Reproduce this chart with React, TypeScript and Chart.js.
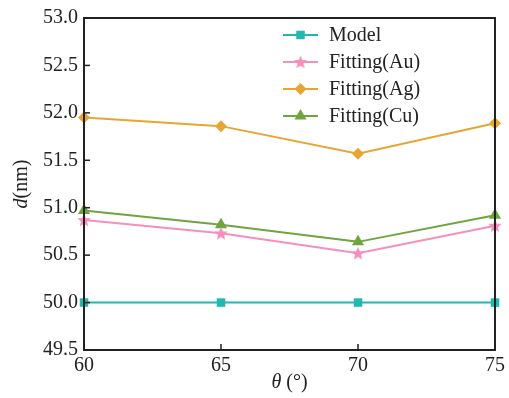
import React, { useEffect, useRef } from "react";
import { Chart, registerables } from "chart.js";
Chart.register(...registerables);

const angles = [60, 65, 70, 75];
const modelValues = [50.0, 50.0, 50.0, 50.0];
const auValues = [50.87, 50.73, 50.52, 50.81];
const agValues = [51.95, 51.86, 51.57, 51.89];
const cuValues = [50.97, 50.82, 50.64, 50.92];
const seriesNames = ["Model", "Fitting(Au)", "Fitting(Ag)", "Fitting(Cu)"];
const yTicks = [49.5, 50.0, 50.5, 51.0, 51.5, 52.0, 52.5, 53.0];
const xTicks = [60, 65, 70, 75];

const TEAL = "#20b8b0";
const PINK = "#f78fbd";
const ORANGE = "#e8a534";
const GREEN = "#6fa43f";
const FONT = "'Liberation Serif', 'Times New Roman', serif";

function makeStar(color: string, size: number) {
  const c = document.createElement("canvas");
  c.width = size;
  c.height = size;
  const ctx = c.getContext("2d")!;
  const cx = size / 2, cy = size / 2 + 0.5;
  const R = size / 2, r = R * 0.45;
  ctx.beginPath();
  for (let i = 0; i < 10; i++) {
    const rad = i % 2 === 0 ? R : r;
    const a = -Math.PI / 2 + (i * Math.PI) / 5;
    const x = cx + rad * Math.cos(a), y = cy + rad * Math.sin(a);
    if (i === 0) ctx.moveTo(x, y); else ctx.lineTo(x, y);
  }
  ctx.closePath();
  ctx.fillStyle = color;
  ctx.fill();
  return c;
}

function drawMarker(ctx: CanvasRenderingContext2D, style: any, r: number, x: number, y: number, color: string) {
  ctx.fillStyle = color;
  if (typeof style !== "string") {
    ctx.drawImage(style, x - style.width / 2, y - style.height / 2);
    return;
  }
  ctx.beginPath();
  if (style === "rect") {
    const s = r * Math.SQRT1_2;
    ctx.rect(x - s, y - s, 2 * s, 2 * s);
  } else if (style === "rectRot") {
    ctx.moveTo(x, y - r);
    ctx.lineTo(x + r, y);
    ctx.lineTo(x, y + r);
    ctx.lineTo(x - r, y);
    ctx.closePath();
  } else if (style === "triangle") {
    ctx.moveTo(x, y - r);
    ctx.lineTo(x + r * Math.cos(Math.PI / 6), y + r * 0.5);
    ctx.lineTo(x - r * Math.cos(Math.PI / 6), y + r * 0.5);
    ctx.closePath();
  }
  ctx.fill();
}

export default function App() {
  const ref = useRef<HTMLCanvasElement>(null);
  useEffect(() => {
    document.body.style.margin = "0";
    const star = makeStar(PINK, 14);
    const mk = (vals: number[]) => vals.map((v, i) => ({ x: angles[i], y: v }));
    const datasets: any[] = [
      { label: seriesNames[0], data: mk(modelValues), borderColor: TEAL, backgroundColor: TEAL, pointStyle: "rect", pointRadius: 6 },
      { label: seriesNames[1], data: mk(auValues), borderColor: PINK, backgroundColor: PINK, pointStyle: star, pointRadius: 7 },
      { label: seriesNames[2], data: mk(agValues), borderColor: ORANGE, backgroundColor: ORANGE, pointStyle: "rectRot", pointRadius: 6 },
      { label: seriesNames[3], data: mk(cuValues), borderColor: GREEN, backgroundColor: GREEN, pointStyle: "triangle", pointRadius: 7 },
    ].map((d) => ({ ...d, borderWidth: 2, pointBorderWidth: 0, clip: false }));

    const framePlugin = {
      id: "frame",
      afterDraw(chart: any) {
        const { ctx, chartArea: a, scales } = chart;
        ctx.save();
        ctx.strokeStyle = "#222";
        ctx.lineWidth = 2;
        ctx.strokeRect(a.left, a.top, a.right - a.left, a.bottom - a.top);
        ctx.lineWidth = 1.5;
        scales.y.ticks.forEach((t: any) => {
          const py = scales.y.getPixelForValue(t.value);
          ctx.beginPath();
          ctx.moveTo(a.left, py);
          ctx.lineTo(a.left + 6, py);
          ctx.stroke();
        });
        scales.x.ticks.forEach((t: any) => {
          const px = scales.x.getPixelForValue(t.value);
          ctx.beginPath();
          ctx.moveTo(px, a.bottom);
          ctx.lineTo(px, a.bottom - 6);
          ctx.stroke();
        });
        ctx.fillStyle = "#222";
        ctx.textBaseline = "middle";
        const drawMixed = (parts: [string, boolean][], cx: number, cy: number) => {
          let total = 0;
          const widths = parts.map(([s, it]) => {
            ctx.font = `${it ? "italic " : ""}20px ${FONT}`;
            const w = ctx.measureText(s).width;
            total += w;
            return w;
          });
          let x = cx - total / 2;
          parts.forEach(([s, it], i) => {
            ctx.font = `${it ? "italic " : ""}20px ${FONT}`;
            ctx.textAlign = "left";
            ctx.fillStyle = "#222";
            ctx.fillText(s, x, cy);
            x += widths[i];
          });
        };
        drawMixed([["\u03b8", true], [" (\u00b0)", false]], (a.left + a.right) / 2, 383);
        ctx.save();
        ctx.translate(22, (a.top + a.bottom) / 2);
        ctx.rotate(-Math.PI / 2);
        drawMixed([["d", true], ["(nm)", false]], 0, 0);
        ctx.restore();
        const rows = [35, 62, 89, 116];
        chart.data.datasets.forEach((ds: any, i: number) => {
          const y = rows[i];
          ctx.strokeStyle = ds.borderColor;
          ctx.lineWidth = 2;
          ctx.beginPath();
          ctx.moveTo(283, y);
          ctx.lineTo(318, y);
          ctx.stroke();
          drawMarker(ctx, ds.pointStyle, ds.pointRadius, 300.5, y, ds.backgroundColor);
          ctx.font = `20px ${FONT}`;
          ctx.textAlign = "left";
          ctx.fillStyle = "#222";
          ctx.fillText(ds.label, 329, y + 1);
        });
        ctx.restore();
      },
    };

    const chart = new Chart(ref.current!, {
      type: "line",
      data: { datasets },
      options: {
        animation: false,
        responsive: false,
        layout: { padding: { top: 17, right: 12, left: 0, bottom: 0 } },
        plugins: { legend: { display: false }, tooltip: { enabled: false } },
        scales: {
          x: {
            type: "linear",
            min: 60,
            max: 75,
            afterBuildTicks: (s: any) => { s.ticks = xTicks.map((v) => ({ value: v })); },
            afterFit: (s: any) => { s.height = 48; },
            grid: { display: false, drawTicks: false },
            border: { display: false },
            ticks: { color: "#222", font: { family: FONT, size: 20 }, padding: 4, maxRotation: 0, callback: (v: any) => String(v) },
          },
          y: {
            type: "linear",
            min: 49.5,
            max: 53.0,
            afterBuildTicks: (s: any) => { s.ticks = yTicks.map((v) => ({ value: v })); },
            afterFit: (s: any) => { s.width = 84; },
            grid: { display: false, drawTicks: false },
            border: { display: false },
            ticks: { color: "#222", font: { family: FONT, size: 20 }, padding: 6, callback: (v: any) => Number(v).toFixed(1) },
          },
        },
      } as any,
      plugins: [framePlugin],
    });
    return () => chart.destroy();
  }, []);
  return (
    <div style={{ width: 509, height: 398 }}>
      <canvas ref={ref} width={509} height={398} />
    </div>
  );
}
